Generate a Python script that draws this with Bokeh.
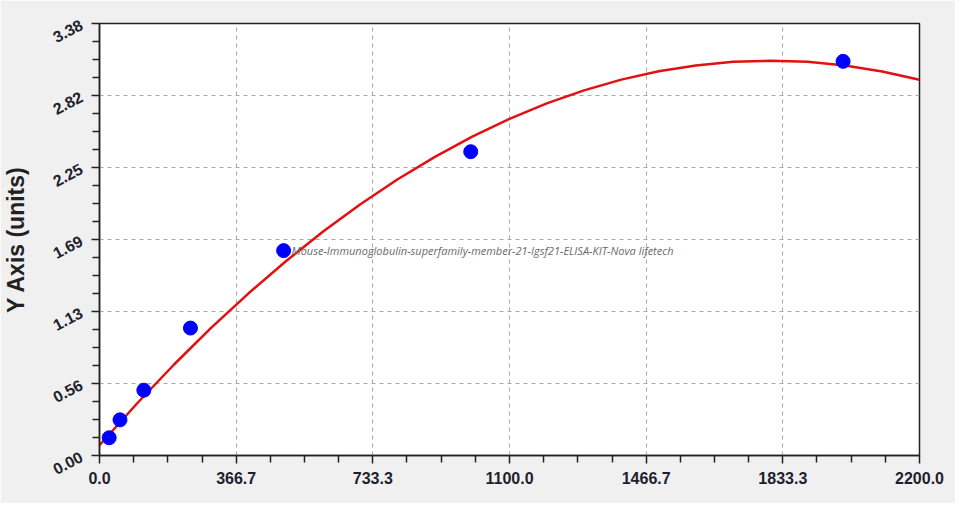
from bokeh.plotting import figure
from bokeh.models import FixedTicker, Label, Range1d
from bokeh.embed import file_html
from bokeh.resources import INLINE

# Standard points
std_x = [26, 55, 119, 244, 494, 996, 1995]
std_y = [0.139, 0.279, 0.511, 0.997, 1.603, 2.377, 3.084]

# Fitted curve
curve_x = [0, 100, 200, 300, 400, 500, 600, 700, 800, 900, 1000, 1100,
           1200, 1300, 1400, 1500, 1600, 1700, 1800, 1900, 2000, 2100, 2200]
curve_y = [0.080, 0.405, 0.712, 1.000, 1.269, 1.520, 1.752, 1.966, 2.161, 2.337, 2.495, 2.634,
           2.755, 2.857, 2.941, 3.006, 3.052, 3.080, 3.089, 3.080, 3.052, 3.005, 2.940]

x_ticks = [0.0, 366.7, 733.3, 1100.0, 1466.7, 1833.3, 2200.0]
x_tick_labels = ["0.0", "366.7", "733.3", "1100.0", "1466.7", "1833.3", "2200.0"]
y_ticks = [0.00, 0.5633, 1.1267, 1.69, 2.2533, 2.8167, 3.38]
y_tick_labels = ["0.00", "0.56", "1.13", "1.69", "2.25", "2.82", "3.38"]

y_axis_title = "Y Axis (units)"
watermark = "Mouse-Immunoglobulin-superfamily-member-21-Igsf21-ELISA-KIT-Nova lifetech"

BG = "#f0f0f0"
FONT = "Liberation Sans"

p = figure(width=955, height=503, output_backend="svg", toolbar_location=None,
           x_range=Range1d(0, 2200), y_range=Range1d(0, 3.38),
           min_border_left=95, min_border_top=23, min_border_right=36, min_border_bottom=48)
p.background_fill_color = "white"
p.border_fill_color = BG
p.outline_line_color = "#222222"
p.outline_line_width = 1.5


def minors(ticks):
    out = []
    for a, b in zip(ticks[:-1], ticks[1:]):
        for k in range(1, 4):
            out.append(a + (b - a) * k / 4)
    return out

p.xaxis.ticker = FixedTicker(ticks=x_ticks, minor_ticks=minors(x_ticks))
p.yaxis.ticker = FixedTicker(ticks=y_ticks, minor_ticks=minors(y_ticks))
p.xaxis.major_label_overrides = {t: l for t, l in zip(x_ticks, x_tick_labels)}
p.yaxis.major_label_overrides = {t: l for t, l in zip(y_ticks, y_tick_labels)}

for ax in (p.xaxis[0], p.yaxis[0]):
    ax.axis_line_color = "#222222"
    ax.axis_line_width = 1.5
    ax.major_tick_in = 0
    ax.major_tick_out = 8
    ax.minor_tick_in = 0
    ax.minor_tick_out = 7
    ax.major_tick_line_color = "#222222"
    ax.minor_tick_line_color = "#222222"
    ax.major_tick_line_width = 1.5
    ax.minor_tick_line_width = 1.5
    ax.major_label_text_font = FONT
    ax.major_label_text_font_style = "bold"
    ax.major_label_text_font_size = "16px"
    ax.major_label_text_color = "#1e1e2e"

p.xaxis.major_label_standoff = 8
p.yaxis.major_label_standoff = 10
p.yaxis.major_label_orientation = 0.48

p.yaxis.axis_label = y_axis_title
p.yaxis.axis_label_text_font = FONT
p.yaxis.axis_label_text_font_style = "bold"
p.yaxis.axis_label_text_font_size = "23px"
p.yaxis.axis_label_text_color = "#222222"
p.yaxis.axis_label_standoff = 16

p.grid.grid_line_color = "#a8a8a8"
p.grid.grid_line_dash = "4 4"
p.grid.grid_line_width = 1

p.line(curve_x, curve_y, line_color="#e21010", line_width=2.5)
p.scatter(std_x, std_y, size=14, fill_color="#0000ff", line_color="#0000ff")

p.add_layout(Label(x=515, y=1.603, text=watermark, text_font="Open Sans",
                   text_font_style="italic", text_font_size="11px",
                   text_color="#6a6a6a", text_baseline="middle"))

open("out.html", "w").write(file_html(p, INLINE))
